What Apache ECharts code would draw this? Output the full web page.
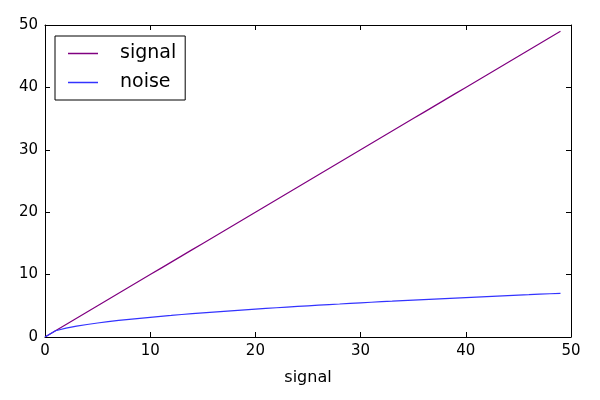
<!DOCTYPE html>
<html><head><meta charset="utf-8">
<script src="https://cdn.jsdelivr.net/npm/echarts@6/dist/echarts.min.js"></script>
<style>html,body{margin:0;padding:0;background:#fff}#c{width:600px;height:400px}</style>
</head><body><div id="c"></div>
<script>
const xValues = [0,1,2,3,4,5,6,7,8,9,10,11,12,13,14,15,16,17,18,19,20,21,22,23,24,25,26,27,28,29,30,31,32,33,34,35,36,37,38,39,40,41,42,43,44,45,46,47,48,49];
const signalValues = [0,1,2,3,4,5,6,7,8,9,10,11,12,13,14,15,16,17,18,19,20,21,22,23,24,25,26,27,28,29,30,31,32,33,34,35,36,37,38,39,40,41,42,43,44,45,46,47,48,49];
const noiseValues = [0,1,1.41,1.73,2,2.24,2.45,2.65,2.83,3,3.16,3.32,3.46,3.61,3.74,3.87,4,4.12,4.24,4.36,4.47,4.58,4.69,4.8,4.9,5,5.1,5.2,5.29,5.39,5.48,5.57,5.66,5.74,5.83,5.92,6,6.08,6.16,6.24,6.32,6.4,6.48,6.56,6.63,6.71,6.78,6.86,6.93,7];
const xTicks = [0,10,20,30,40,50];
const yTicks = [0,10,20,30,40,50];

const chart = echarts.init(document.getElementById('c'), null, {renderer:'canvas'});
const font = 'DejaVu Sans';
const axisCommon = {
  min: 0, max: 50, interval: 10,
  axisLine: {show: true, onZero: false, lineStyle: {color: '#000', width: 1}},
  axisTick: {show: true, inside: true, length: 5, lineStyle: {color: '#000'}},
  splitLine: {show: false}
};
chart.setOption({
  animation: false,
  grid: {left: 45, right: 29, top: 25, bottom: 63},
  legend: {
    left: 55, top: 36, orient: 'vertical',
    data: ['signal', 'noise'],
    icon: 'rect', itemWidth: 30, itemHeight: 1.5, itemGap: 10,
    padding: [8, 9, 8, 13],
    borderColor: '#000', borderWidth: 1, borderRadius: 0,
    textStyle: {fontFamily: font, fontSize: 19, color: '#000', padding: [0, 0, 0, 17], lineHeight: 19}
  },
  xAxis: [
    Object.assign({}, axisCommon, {type: 'value', position: 'bottom', name: 'signal', nameLocation: 'middle', nameGap: 33,
      nameTextStyle: {fontFamily: font, fontSize: 16, color: '#000'},
      axisLabel: {fontFamily: font, fontSize: 15, color: '#000', margin: 7,
        formatter: v => xTicks.includes(v) ? String(v) : ''}}),
    Object.assign({}, axisCommon, {type: 'value', position: 'top', axisLabel: {show: false}})
  ],
  yAxis: [
    Object.assign({}, axisCommon, {type: 'value', position: 'left',
      axisLabel: {fontFamily: font, fontSize: 15, color: '#000', margin: 7,
        formatter: v => yTicks.includes(v) ? String(v) : ''}}),
    Object.assign({}, axisCommon, {type: 'value', position: 'right', axisLabel: {show: false}})
  ],
  series: [
    {name: 'signal', type: 'line', showSymbol: false, color: '#800080', lineStyle: {width: 1.2, color: '#800080'},
      data: xValues.map((x, i) => [x, signalValues[i]])},
    {name: 'noise', type: 'line', showSymbol: false, color: '#3333ff', lineStyle: {width: 1.2, color: '#3333ff'},
      data: xValues.map((x, i) => [x, noiseValues[i]])}
  ]
});
</script></body></html>
